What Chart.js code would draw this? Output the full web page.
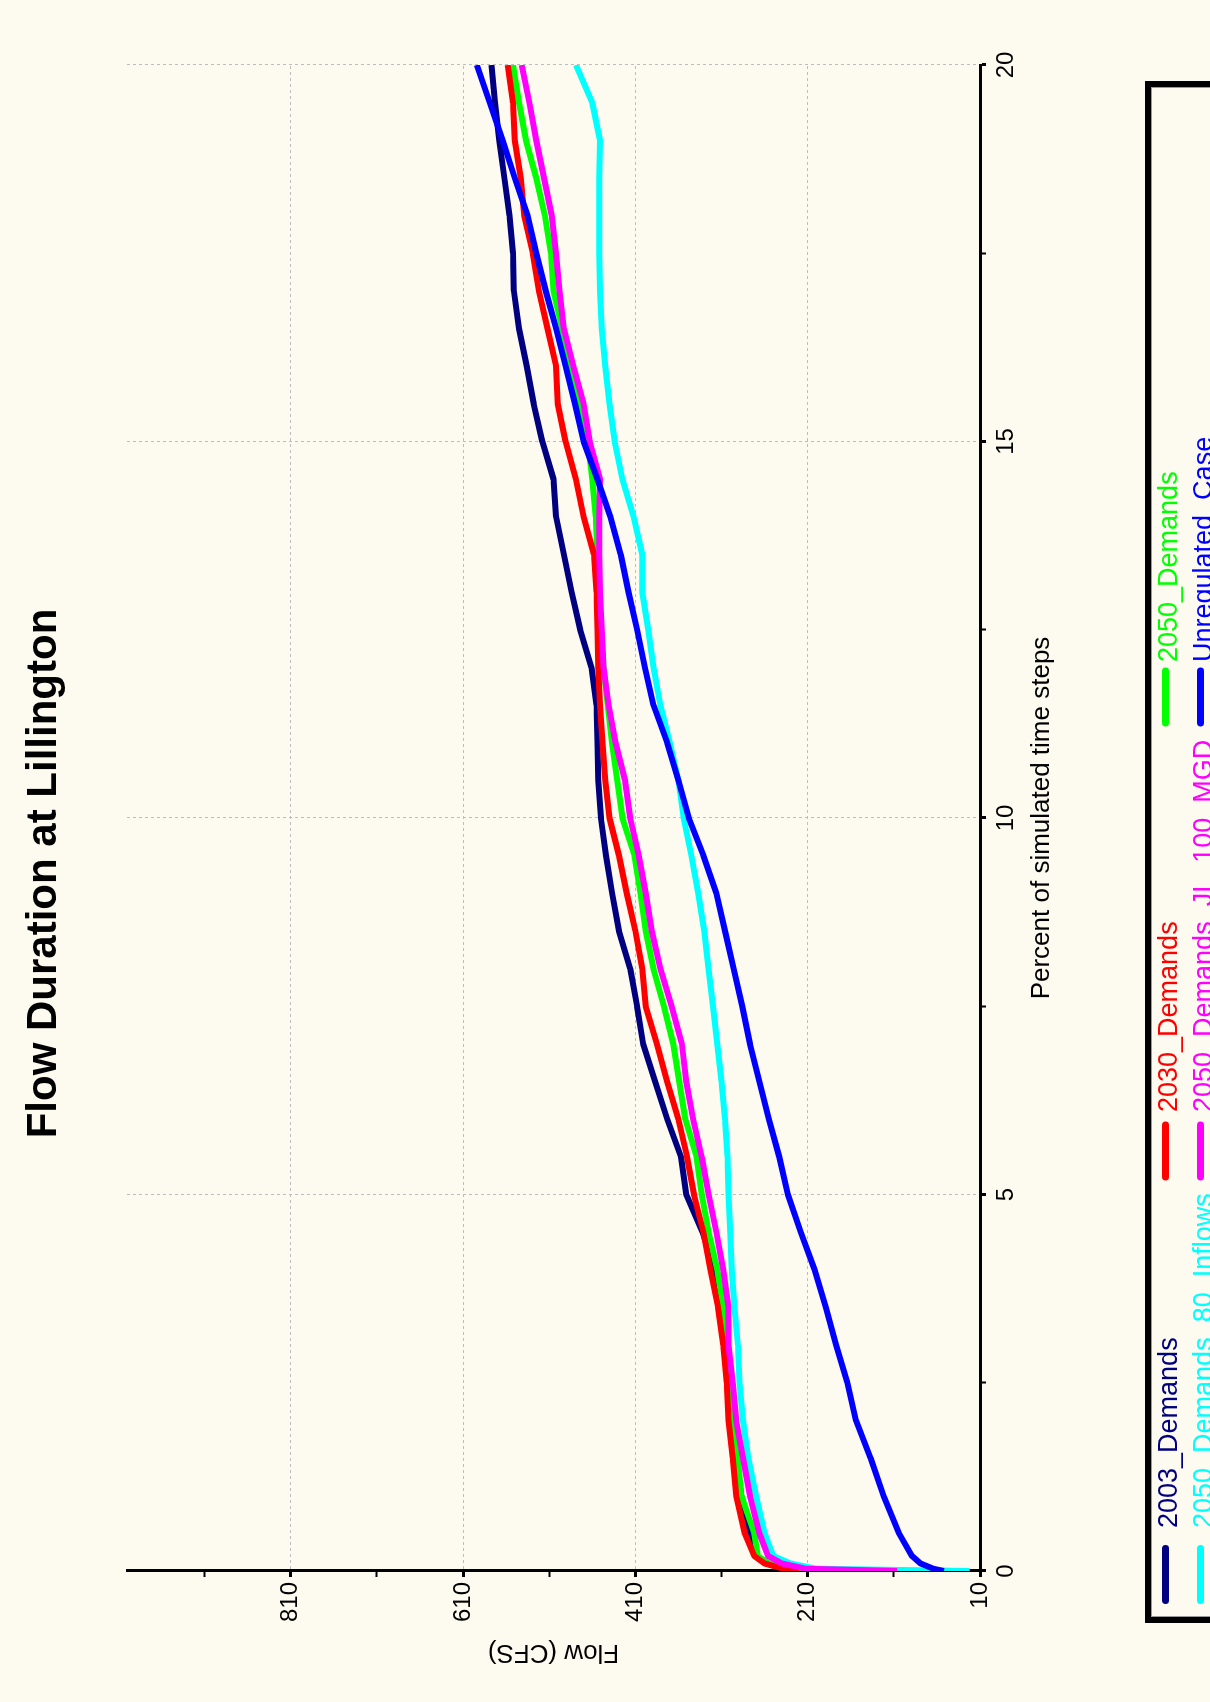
<!DOCTYPE html>
<html>
<head>
<meta charset="utf-8">
<script src="https://cdn.jsdelivr.net/npm/chart.js@4/dist/chart.umd.min.js"></script>
<style>
  html, body { margin: 0; padding: 0; width: 1210px; height: 1702px; overflow: hidden; background: #FDFBF0; }
  /* the chart is drawn landscape and turned a quarter turn, as in the source image */
  #wrap { position: absolute; left: 0; top: 0; width: 1702px; height: 1210px;
          transform-origin: 0 0; transform: translateY(1702px) rotate(-90deg); }
</style>
</head>
<body>
<div id="wrap"><canvas id="flowChart" width="1702" height="1210"></canvas></div>
<script>
// Percent of simulated time steps (x)
const percentSteps = [0, 0.03, 0.1, 0.2, 0.5, 1, 1.5, 2, 2.5, 3, 3.5, 4, 4.5, 5, 5.5, 6, 6.5, 7, 7.5, 8,
  8.5, 9, 9.5, 10, 10.5, 11, 11.5, 12, 12.5, 13, 13.5, 14, 14.5, 15, 15.5, 16, 16.5, 17, 17.5, 18,
  18.5, 19, 19.5, 20];

// Flow (CFS) per scenario
const demands2003 = [215, 238, 258, 270, 277, 287, 293, 298, 302, 306, 310, 318, 332, 351, 357, 373, 387, 401, 408, 416,
  429, 437, 444, 450, 453, 454, 455, 461, 474, 484, 493, 502, 505, 518, 528, 536, 545, 551, 552, 556, 562, 568, 573, 577];
const demands2030 = [220, 238, 260, 272, 283, 293, 297, 302, 304, 308, 314, 323, 331, 342, 350, 360, 373, 385, 398, 402,
  410, 420, 429, 440, 445, 448, 451, 453, 454, 455, 458, 470, 479, 491, 500, 502, 512, 522, 529, 539, 543, 550, 552, 558];
const demands2050 = [215, 232, 255, 268, 272, 287, 291, 296, 300, 304, 308, 315, 325, 333, 339, 352, 359, 366, 377, 389,
  398, 404, 411, 425, 431, 437, 442, 447, 450, 452, 454, 456, 460, 465, 474, 485, 495, 505, 508, 515, 525, 537, 545, 552];
const demands2050Inflows80 = [22, 200, 230, 250, 260, 270, 279, 285, 289, 291, 295, 298, 300, 302, 303, 306, 310, 315, 320, 325,
  330, 337, 345, 354, 360, 370, 381, 389, 395, 402, 402, 412, 425, 434, 440, 445, 449, 451, 452, 452, 452, 451, 460, 479];
const demands2050JL100 = [106, 212, 240, 256, 266, 277, 285, 293, 297, 302, 302, 308, 316, 325, 333, 343, 351, 356, 368, 381,
  391, 398, 406, 416, 422, 433, 441, 447, 449, 451, 452, 452, 451, 463, 470, 482, 493, 498, 502, 507, 516, 525, 533, 542];
const unregulated = [52, 64, 79, 89, 104, 122, 137, 154, 164, 177, 189, 202, 218, 233, 243, 255, 266, 277, 286, 296,
  306, 316, 331, 348, 360, 373, 389, 399, 408, 418, 427, 439, 454, 470, 480, 491, 502, 514, 525, 535, 550, 564, 579, 594];

// Axis ticks
const percentTicks = [0, 2.5, 5, 7.5, 10, 12.5, 15, 17.5, 20];
const percentLabels = [0, 5, 10, 15, 20];
const flowTicks = [10, 110, 210, 310, 410, 510, 610, 710, 810, 910];
const flowLabels = [10, 210, 410, 610, 810];

const seriesLabels = ['2003_Demands', '2030_Demands', '2050_Demands',
  '2050_Demands_80_Inflows', '2050_Demands_JL_100_MGD', 'Unregulated_Case'];
const seriesData = [demands2003, demands2030, demands2050, demands2050Inflows80, demands2050JL100, unregulated];
const seriesColors = ['#000080', '#FF0000', '#00FF00', '#00FFFF', '#FF00FF', '#0000FF'];
const seriesOrder = [6, 4, 5, 3, 2, 1]; // blue ends up on top

Chart.defaults.font.family = '"Liberation Sans", Arial, sans-serif';
Chart.defaults.color = '#000000';

function toPoints(values) {
  return values.map((v, i) => ({ x: percentSteps[i], y: v }));
}

// Legend in a boxed grid: column order 2003 / 2030 / 2050 on the first row
const boxLegend = {
  id: 'boxLegend',
  afterDraw(chart) {
    const ctx = chart.ctx;
    const markerX = [127.5, 551, 1005];
    const textX = [174, 590, 1040];
    const rowY = [1165.5, 1200.5];
    const slots = [[0, 0], [1, 0], [2, 0], [0, 1], [1, 1], [2, 1]]; // [column, row] per dataset
    ctx.save();
    ctx.strokeStyle = '#000000';
    ctx.lineWidth = 6;
    ctx.strokeRect(82, 1148, 1536, 120);
    ctx.strokeStyle = '#9A9A9A';
    ctx.lineWidth = 1;
    ctx.strokeRect(85.5, 1151.5, 1529, 120);
    ctx.font = '27px "Liberation Sans", Arial, sans-serif';
    ctx.textBaseline = 'alphabetic';
    chart.data.datasets.forEach((ds, i) => {
      const [c, r] = slots[i];
      ctx.strokeStyle = ds.borderColor;
      ctx.lineWidth = 7;
      ctx.lineCap = 'round';
      ctx.beginPath();
      ctx.moveTo(markerX[c] - 26, rowY[r]);
      ctx.lineTo(markerX[c] + 26, rowY[r]);
      ctx.stroke();
      ctx.fillStyle = ds.borderColor;
      ctx.fillText(ds.label, textX[c], rowY[r] + 11);
    });
    ctx.restore();
  }
};

new Chart(document.getElementById('flowChart'), {
  type: 'line',
  data: {
    datasets: seriesLabels.map((label, i) => ({
      label: label,
      data: toPoints(seriesData[i]),
      borderColor: seriesColors[i],
      backgroundColor: seriesColors[i],
      borderWidth: 6,
      borderJoinStyle: 'round',
      pointRadius: 0,
      tension: 0,
      fill: false,
      order: seriesOrder[i]
    }))
  },
  options: {
    responsive: false,
    animation: false,
    devicePixelRatio: 1,
    layout: { padding: { left: 20, right: 65, top: 0, bottom: 150 } },
    plugins: {
      legend: { display: false },
      tooltip: { enabled: false },
      title: {
        display: true,
        text: 'Flow Duration at Lillington',
        font: { size: 42, weight: 'bold' },
        color: '#000000',
        padding: { top: 19, bottom: 57.6 }
      }
    },
    scales: {
      x: {
        type: 'linear',
        min: 0,
        max: 20,
        afterBuildTicks: (scale) => { scale.ticks = percentTicks.map(v => ({ value: v })); },
        afterFit: (scale) => { scale.height = 80; },
        ticks: {
          autoSkip: false,
          maxRotation: 0,
          padding: 6,
          font: { size: 24 },
          callback: (v) => percentLabels.includes(v) ? String(v) : ''
        },
        grid: {
          color: (c) => (c.tick && c.tick.value > 0 && percentLabels.includes(c.tick.value)) ? '#BDBDBD' : 'rgba(0,0,0,0)',
          lineWidth: 1,
          tickColor: '#000000',
          tickLength: 6,
          tickWidth: (c) => (c.tick && percentLabels.includes(c.tick.value)) ? 3 : 2,
          tickBorderDash: []
        },
        border: { display: true, color: '#000000', width: 3, dash: [3, 3] },
        title: {
          display: true,
          text: 'Percent of simulated time steps',
          font: { size: 26 },
          color: '#000000',
          padding: { top: 4, bottom: 3 }
        }
      },
      y: {
        type: 'linear',
        min: 10,
        max: 1000,
        afterBuildTicks: (scale) => { scale.ticks = flowTicks.map(v => ({ value: v })); },
        afterFit: (scale) => { scale.width = 111; },
        ticks: {
          autoSkip: false,
          padding: 5,
          font: { size: 24 },
          callback: (v) => flowLabels.includes(v) ? String(v) : ''
        },
        grid: {
          color: (c) => (c.tick && c.tick.value > 10 && flowLabels.includes(c.tick.value)) ? '#BDBDBD' : 'rgba(0,0,0,0)',
          lineWidth: 1,
          tickColor: '#000000',
          tickLength: 6,
          tickWidth: (c) => (c.tick && flowLabels.includes(c.tick.value)) ? 3 : 2,
          tickBorderDash: []
        },
        border: { display: true, color: '#000000', width: 3, dash: [3, 3] },
        title: {
          display: true,
          text: 'Flow (CFS)',
          font: { size: 26 },
          color: '#000000',
          padding: { top: 14, bottom: 0 }
        }
      }
    }
  },
  plugins: [boxLegend]
});
</script>
</body>
</html>
